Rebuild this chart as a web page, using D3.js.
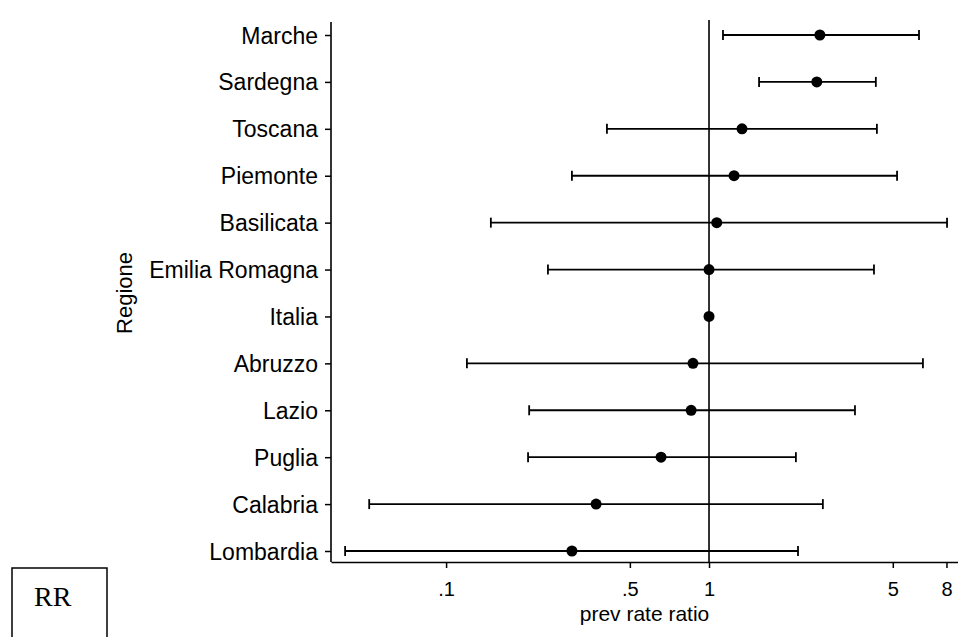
<!DOCTYPE html>
<html>
<head>
<meta charset="utf-8">
<script src="https://cdn.jsdelivr.net/npm/d3@7"></script>
<style>
  body { margin: 0; background: #fff; }
  svg { display: block; }
</style>
</head>
<body>
<div id="chart"></div>
<script>
// dati (rapporto di prevalenza con IC)
const regions = ["Marche", "Sardegna", "Toscana", "Piemonte", "Basilicata", "Emilia Romagna",
  "Italia", "Abruzzo", "Lazio", "Puglia", "Calabria", "Lombardia"];
const rr = [2.64, 2.57, 1.335, 1.245, 1.07, 1.0, 1.0, 0.869, 0.855, 0.657, 0.372, 0.301];
const lower = [1.13, 1.55, 0.409, 0.301, 0.148, 0.244, null, 0.120, 0.207, 0.205, 0.051, 0.0413];
const upper = [6.29, 4.31, 4.35, 5.19, 8.04, 4.24, null, 6.51, 3.59, 2.14, 2.71, 2.18];
const xTicks = [0.1, 0.5, 1, 5, 8];
const xTickLabels = [".1", ".5", "1", "5", "8"];

drawforest()

function drawforest() {
  const width = 958
  const height = 637

  const data = regions.map((r, i) => ({ region: r, rr: rr[i], lo: lower[i], hi: upper[i] }))

  const svg = d3.select("#chart")
    .append("svg")
    .attr("width", width)
    .attr("height", height)

  const plotLeft = 331
  const plotRight = 958
  const plotTop = 22
  const plotBottom = 562

  const x = d3.scaleLog()
    .domain([0.0365, 8.85])
    .range([plotLeft, plotRight])

  const y = d3.scalePoint()
    .domain(regions)
    .range([35, 551])

  // linea di riferimento a 1
  svg.append("line")
    .attr("x1", x(1)).attr("x2", x(1))
    .attr("y1", 20).attr("y2", plotBottom)
    .attr("stroke", "#000")
    .attr("stroke-width", 1.6)

  // asse y
  const yAxis = svg.append("g")
    .attr("transform", `translate(${plotLeft},0)`)
    .call(d3.axisLeft(y).tickSize(6).tickPadding(7))
  yAxis.select(".domain").remove()
  yAxis.selectAll(".tick line").attr("stroke", "#000").attr("stroke-width", 1.5)
  yAxis.selectAll(".tick text")
    .attr("dy", "0.35em")
    .style("font-family", "Liberation Sans, Arial, sans-serif")
    .style("font-size", "23px")
    .attr("fill", "#000")

  svg.append("line")
    .attr("x1", plotLeft).attr("x2", plotLeft)
    .attr("y1", plotTop).attr("y2", plotBottom)
    .attr("stroke", "#000")
    .attr("stroke-width", 1.6)

  // asse x
  const xAxis = svg.append("g")
    .attr("transform", `translate(0,${plotBottom})`)
    .call(d3.axisBottom(x)
      .tickValues(xTicks)
      .tickFormat((d, i) => xTickLabels[i])
      .tickSize(6)
      .tickSizeOuter(0))
  xAxis.select(".domain").attr("stroke", "#000").attr("stroke-width", 1.6)
  xAxis.selectAll(".tick line").attr("stroke", "#000").attr("stroke-width", 1.5)
  xAxis.selectAll(".tick text")
    .attr("y", 34)
    .attr("dy", 0)
    .style("font-family", "Liberation Sans, Arial, sans-serif")
    .style("font-size", "20px")
    .attr("fill", "#000")

  svg.append("text")
    .attr("x", (plotLeft + plotRight) / 2)
    .attr("y", 621)
    .attr("text-anchor", "middle")
    .style("font-family", "Liberation Sans, Arial, sans-serif")
    .style("font-size", "21px")
    .text("prev rate ratio")

  svg.append("text")
    .attr("transform", `translate(${132},${293}) rotate(-90)`)
    .attr("text-anchor", "middle")
    .style("font-family", "Liberation Sans, Arial, sans-serif")
    .style("font-size", "22px")
    .text("Regione")

  // intervalli di confidenza
  const rows = svg.append("g")
    .selectAll("g")
    .data(data)
    .join("g")
    .attr("transform", d => `translate(0,${y(d.region)})`)

  const ci = rows.filter(d => d.lo != null)
  ci.append("line")
    .attr("x1", d => x(d.lo))
    .attr("x2", d => x(d.hi))
    .attr("stroke", "#000")
    .attr("stroke-width", 1.8)
  ci.append("line")
    .attr("x1", d => x(d.lo)).attr("x2", d => x(d.lo))
    .attr("y1", -5).attr("y2", 5)
    .attr("stroke", "#000")
    .attr("stroke-width", 1.8)
  ci.append("line")
    .attr("x1", d => x(d.hi)).attr("x2", d => x(d.hi))
    .attr("y1", -5).attr("y2", 5)
    .attr("stroke", "#000")
    .attr("stroke-width", 1.8)

  rows.append("circle")
    .attr("cx", d => x(d.rr))
    .attr("cy", 0)
    .attr("r", 5.5)
    .attr("fill", "#000")

  // riquadro RR
  svg.append("rect")
    .attr("x", 12)
    .attr("y", 568)
    .attr("width", 95)
    .attr("height", 90)
    .attr("fill", "none")
    .attr("stroke", "#000")
    .attr("stroke-width", 1.5)

  svg.append("text")
    .attr("x", 34)
    .attr("y", 606)
    .style("font-family", "Liberation Serif, Times New Roman, serif")
    .style("font-size", "28px")
    .text("RR")
}
</script>
</body>
</html>
